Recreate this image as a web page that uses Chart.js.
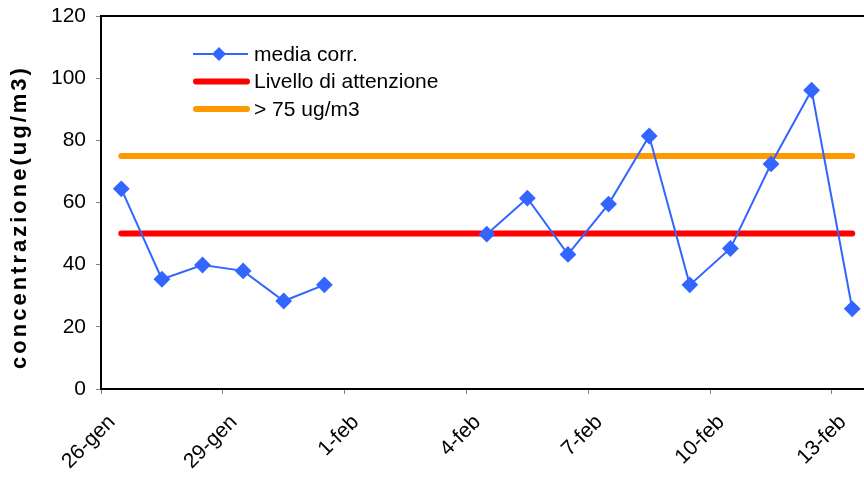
<!DOCTYPE html>
<html>
<head>
<meta charset="utf-8">
<script src="https://cdn.jsdelivr.net/npm/chart.js@4.4.1/dist/chart.umd.min.js"></script>
<style>
  html, body { margin: 0; padding: 0; background: #fff; }
  #wrap { width: 864px; height: 477px; position: relative; }
</style>
</head>
<body>
<div id="wrap"><canvas id="grafico"></canvas></div>
<script>
// giorni dal 26-gen al 13-feb (una categoria per giorno)
const giorni = ['26-gen', '27-gen', '28-gen', '29-gen', '30-gen', '31-gen', '1-feb', '2-feb', '3-feb', '4-feb',
    '5-feb', '6-feb', '7-feb', '8-feb', '9-feb', '10-feb', '11-feb', '12-feb', '13-feb'];
const etichetteAsse = ['26-gen', '29-gen', '1-feb', '4-feb', '7-feb', '10-feb', '13-feb'];

// valori (null = giorno senza dato)
const mediaCorr = [64.4, 35.3, 39.9, 38.0, 28.3, 33.5, null, null, null, 49.8,
    61.4, 43.3, 59.5, 81.4, 33.5, 45.2, 72.4, 96.1, 25.8];
const livelloAttenzione = giorni.map(() => 50);
const soglia75 = giorni.map(() => 75);

const yTicks = [0, 20, 40, 60, 80, 100, 120];

const punti = arr => arr.map((v, i) => ({ x: i + 0.5, y: v }));

const famiglia = '"Liberation Sans", Arial, sans-serif';

// bordo superiore dell'area, titolo asse y e legenda interna
const decorazioni = {
    id: 'decorazioni',
    afterDraw(chart) {
        const ctx = chart.ctx;
        const a = chart.chartArea;
        ctx.save();

        // bordo in alto
        ctx.strokeStyle = '#000';
        ctx.lineWidth = 2;
        ctx.beginPath();
        ctx.moveTo(a.left - 1, a.top);
        ctx.lineTo(a.right, a.top);
        ctx.stroke();

        // titolo asse y
        ctx.save();
        ctx.translate(20, 217);
        ctx.rotate(-Math.PI / 2);
        ctx.font = 'bold 22px ' + famiglia;
        if ('letterSpacing' in ctx) ctx.letterSpacing = '3px';
        ctx.fillStyle = '#000';
        ctx.textAlign = 'center';
        ctx.textBaseline = 'middle';
        ctx.fillText('concentrazione(ug/m3)', 0, 0);
        ctx.restore();

        // legenda
        const voci = [
            { testo: 'media corr.', colore: '#3366FF', spessore: 2, punto: true },
            { testo: 'Livello di attenzione', colore: '#FF0000', spessore: 6 },
            { testo: '> 75 ug/m3', colore: '#FF9900', spessore: 6 }
        ];
        ctx.font = '21px ' + famiglia;
        ctx.textBaseline = 'middle';
        voci.forEach((v, i) => {
            const y = 54 + i * 27.5;
            ctx.strokeStyle = v.colore;
            ctx.lineWidth = v.spessore;
            ctx.lineCap = v.punto ? 'butt' : 'round';
            ctx.beginPath();
            ctx.moveTo(v.punto ? 193 : 196, y);
            ctx.lineTo(v.punto ? 248 : 247, y);
            ctx.stroke();
            if (v.punto) {
                ctx.fillStyle = v.colore;
                ctx.beginPath();
                ctx.moveTo(219, y - 7);
                ctx.lineTo(226, y);
                ctx.lineTo(219, y + 7);
                ctx.lineTo(212, y);
                ctx.closePath();
                ctx.fill();
            }
            ctx.fillStyle = '#000';
            ctx.fillText(v.testo, 254, y + 1);
        });
        ctx.restore();
    }
};

new Chart(document.getElementById('grafico'), {
    type: 'line',
    data: {
        datasets: [
            { label: 'media corr.', data: punti(mediaCorr), borderColor: '#3366FF', backgroundColor: '#3366FF', borderWidth: 2,
              pointStyle: 'rectRot', pointRadius: 7, pointHoverRadius: 7, spanGaps: false, tension: 0, order: 0 },
            { label: 'Livello di attenzione', data: punti(livelloAttenzione), borderColor: '#FF0000', borderWidth: 6,
              pointRadius: 0, borderCapStyle: 'round', order: 1 },
            { label: '> 75 ug/m3', data: punti(soglia75), borderColor: '#FF9900', borderWidth: 6,
              pointRadius: 0, borderCapStyle: 'round', order: 2 }
        ]
    },
    options: {
        responsive: true,
        maintainAspectRatio: false,
        animation: false,
        layout: { autoPadding: false, padding: { top: 16, right: 0, left: 0, bottom: 0 } },
        plugins: { legend: { display: false }, tooltip: { enabled: false } },
        scales: {
            x: {
                type: 'linear',
                min: 0,
                max: 18.79,
                afterFit: s => { s.height = 88; s.paddingRight = 0; s.paddingLeft = 0; },
                afterBuildTicks: s => { s.ticks = etichetteAsse.map((t, i) => ({ value: i * 3 })); },
                ticks: {
                    autoSkip: false,
                    maxRotation: 45,
                    minRotation: 45,
                    padding: 16,
                    labelOffset: 11,
                    color: '#000',
                    font: { family: famiglia, size: 21 },
                    callback: (v) => etichetteAsse[Math.round(v / 3)]
                },
                grid: { drawOnChartArea: false, drawTicks: true, tickLength: 5, color: '#808080' },
                border: { color: '#000', width: 2 }
            },
            y: {
                min: 0,
                max: 120,
                afterFit: s => { s.width = 101; s.paddingTop = 0; s.paddingBottom = 0; },
                afterBuildTicks: s => { s.ticks = yTicks.map(v => ({ value: v })); },
                ticks: { color: '#000', font: { family: famiglia, size: 21 }, padding: 10 },
                grid: { drawOnChartArea: false, drawTicks: true, tickLength: 5, color: '#808080' },
                border: { color: '#000', width: 2 }
            }
        }
    },
    plugins: [decorazioni]
});
</script>
</body>
</html>
